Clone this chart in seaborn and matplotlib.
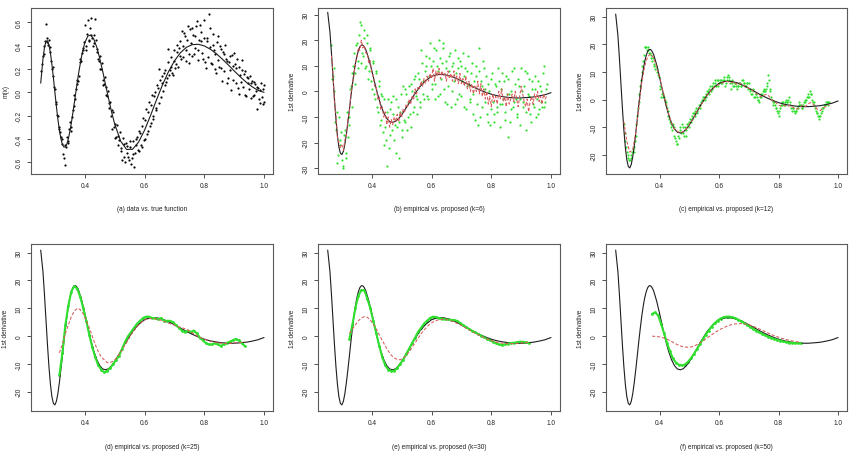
import matplotlib
matplotlib.use("Agg")
import matplotlib.pyplot as plt
import seaborn as sns

# ------------------------------------------------------------
# Doppler-type regression: data, true m(x), and first-derivative
# estimates (empirical vs. proposed) for several k
# ------------------------------------------------------------

# design points, first half of the grid
XS = [
    0.255, 0.26, 0.265, 0.27, 0.275, 0.28, 0.285, 0.29, 0.295, 0.30,
    0.305, 0.31, 0.315, 0.32, 0.325, 0.33, 0.335, 0.34, 0.345, 0.35,
    0.355, 0.36, 0.365, 0.37, 0.375, 0.38, 0.385, 0.39, 0.395, 0.40,
    0.405, 0.41, 0.415, 0.42, 0.425, 0.43, 0.435, 0.44, 0.445, 0.45,
    0.455, 0.46, 0.465, 0.47, 0.475, 0.48, 0.485, 0.49, 0.495, 0.50,
    0.505, 0.51, 0.515, 0.52, 0.525, 0.53, 0.535, 0.54, 0.545, 0.55,
    0.555, 0.56, 0.565, 0.57, 0.575, 0.58, 0.585, 0.59, 0.595, 0.60,
    0.605, 0.61, 0.615, 0.62, 0.625, 0.63, 0.635, 0.64, 0.645, 0.65,
    0.655, 0.66, 0.665, 0.67, 0.675, 0.68, 0.685, 0.69, 0.695, 0.70,
    0.705, 0.71, 0.715, 0.72, 0.725, 0.73, 0.735, 0.74, 0.745, 0.75,
    0.755, 0.76, 0.765, 0.77, 0.775, 0.78, 0.785, 0.79, 0.795, 0.80,
    0.805, 0.81, 0.815, 0.82, 0.825, 0.83, 0.835, 0.84, 0.845, 0.85,
    0.855, 0.86, 0.865, 0.87, 0.875, 0.88, 0.885, 0.89, 0.895, 0.90,
    0.905, 0.91, 0.915, 0.92, 0.925, 0.93, 0.935, 0.94, 0.945, 0.95,
    0.955, 0.96, 0.965, 0.97, 0.975, 0.98, 0.985, 0.99, 0.995, 1.00,
]
# design points, second half of the grid (in between)
XS2 = [
    0.2575, 0.2625, 0.2675, 0.2725, 0.2775, 0.2825, 0.2875, 0.2925, 0.2975, 0.3025,
    0.3075, 0.3125, 0.3175, 0.3225, 0.3275, 0.3325, 0.3375, 0.3425, 0.3475, 0.3525,
    0.3575, 0.3625, 0.3675, 0.3725, 0.3775, 0.3825, 0.3875, 0.3925, 0.3975, 0.4025,
    0.4075, 0.4125, 0.4175, 0.4225, 0.4275, 0.4325, 0.4375, 0.4425, 0.4475, 0.4525,
    0.4575, 0.4625, 0.4675, 0.4725, 0.4775, 0.4825, 0.4875, 0.4925, 0.4975, 0.5025,
    0.5075, 0.5125, 0.5175, 0.5225, 0.5275, 0.5325, 0.5375, 0.5425, 0.5475, 0.5525,
    0.5575, 0.5625, 0.5675, 0.5725, 0.5775, 0.5825, 0.5875, 0.5925, 0.5975, 0.6025,
    0.6075, 0.6125, 0.6175, 0.6225, 0.6275, 0.6325, 0.6375, 0.6425, 0.6475, 0.6525,
    0.6575, 0.6625, 0.6675, 0.6725, 0.6775, 0.6825, 0.6875, 0.6925, 0.6975, 0.7025,
    0.7075, 0.7125, 0.7175, 0.7225, 0.7275, 0.7325, 0.7375, 0.7425, 0.7475, 0.7525,
    0.7575, 0.7625, 0.7675, 0.7725, 0.7775, 0.7825, 0.7875, 0.7925, 0.7975, 0.8025,
    0.8075, 0.8125, 0.8175, 0.8225, 0.8275, 0.8325, 0.8375, 0.8425, 0.8475, 0.8525,
    0.8575, 0.8625, 0.8675, 0.8725, 0.8775, 0.8825, 0.8875, 0.8925, 0.8975, 0.9025,
    0.9075, 0.9125, 0.9175, 0.9225, 0.9275, 0.9325, 0.9375, 0.9425, 0.9475, 0.9525,
    0.9575, 0.9625, 0.9675, 0.9725, 0.9775, 0.9825, 0.9875, 0.9925, 0.9975, 0.9990,
]

# (a) observed data
A_Y = [
    0.18, 0.31, 0.40, 0.59, 0.43, 0.45, 0.35, 0.20, 0.14, 0.03,
    -0.10, -0.20, -0.31, -0.38, -0.40, -0.56, -0.62, -0.38, -0.42, -0.25,
    -0.30, -0.15, -0.02, 0.03, 0.11, 0.14, 0.29, 0.34, 0.38, 0.58,
    0.36, 0.62, 0.44, 0.64, 0.47, 0.42, 0.63, 0.37, 0.29, 0.31,
    0.20, 0.06, 0.07, 0.05, -0.03, -0.09, -0.08, -0.31, -0.17, -0.39,
    -0.38, -0.37, -0.41, -0.50, -0.58, -0.44, -0.60, -0.46, -0.55, -0.47,
    -0.61, -0.53, -0.64, -0.45, -0.38, -0.50, -0.35, -0.47, -0.22, -0.40,
    -0.14, -0.33, -0.08, -0.26, -0.02, -0.20, 0.00, -0.13, 0.04, 0.20,
    -0.04, 0.08, 0.17, 0.06, 0.12, 0.37, 0.19, 0.22, 0.15, 0.27,
    0.24, 0.41, 0.38, 0.31, 0.53, 0.30, 0.48, 0.36, 0.57, 0.25,
    0.42, 0.55, 0.33, 0.48, 0.61, 0.36, 0.58, 0.44, 0.29, 0.62,
    0.21, 0.47, 0.67, 0.39, 0.24, 0.50, 0.33, 0.17, 0.48, 0.22,
    0.37, 0.10, 0.33, 0.41, 0.27, 0.12, 0.31, 0.02, 0.23, 0.34,
    0.08, 0.29, -0.01, 0.15, 0.28, 0.05, 0.18, -0.03, 0.12, 0.03,
    -0.05, 0.10, -0.02, 0.07, -0.14, 0.04, -0.09, 0.08, -0.10, 0.06,
]
A_Y2 = [
    0.24, 0.33, 0.44, 0.47, 0.41, 0.39, 0.27, 0.22, 0.05, -0.08,
    -0.19, -0.30, -0.34, -0.44, -0.53, -0.45, -0.47, -0.43, -0.31, -0.33,
    -0.21, -0.12, -0.06, 0.07, 0.10, 0.26, 0.27, 0.36, 0.43, 0.40,
    0.50, 0.45, 0.55, 0.49, 0.40, 0.49, 0.45, 0.35, 0.27, 0.20,
    0.25, 0.11, 0.13, -0.02, 0.01, -0.13, -0.20, -0.15, -0.30, -0.27,
    -0.28, -0.45, -0.34, -0.48, -0.39, -0.55, -0.43, -0.52, -0.58, -0.42,
    -0.56, -0.42, -0.52, -0.40, -0.49, -0.33, -0.45, -0.29, -0.41, -0.24,
    -0.36, -0.17, -0.29, -0.11, -0.23, -0.03, -0.15, 0.06, -0.09, 0.11,
    0.14, 0.01, 0.19, 0.09, 0.26, 0.15, 0.30, 0.17, 0.36, 0.21,
    0.35, 0.22, 0.44, 0.29, 0.40, 0.51, 0.27, 0.45, 0.33, 0.54,
    0.31, 0.49, 0.38, 0.57, 0.28, 0.45, 0.52, 0.34, 0.47, 0.26,
    0.44, 0.30, 0.55, 0.25, 0.41, 0.36, 0.20, 0.43, 0.28, 0.40,
    0.21, 0.35, 0.18, 0.29, 0.08, 0.26, 0.19, 0.32, 0.11, 0.24,
    0.21, 0.04, 0.22, 0.09, 0.19, 0.16, -0.02, 0.13, 0.08, 0.14,
    0.08, -0.03, 0.09, 0.01, 0.05, -0.06, 0.02, -0.04, 0.03, -0.08,
]

# true function and its first derivative
X_TRUE = [
    0.2525, 0.26, 0.265, 0.27, 0.275, 0.28, 0.285, 0.29, 0.295, 0.30,
    0.305, 0.31, 0.315, 0.32, 0.325, 0.33, 0.335, 0.34, 0.345, 0.35,
    0.355, 0.36, 0.365, 0.37, 0.375, 0.38, 0.39, 0.40, 0.41, 0.42,
    0.43, 0.44, 0.45, 0.46, 0.47, 0.48, 0.49, 0.50, 0.52, 0.54,
    0.56, 0.58, 0.60, 0.62, 0.64, 0.66, 0.68, 0.70, 0.72, 0.74,
    0.76, 0.78, 0.80, 0.82, 0.84, 0.86, 0.88, 0.90, 0.92, 0.94,
    0.96, 0.98, 1.00,
]
M_TRUE = [
    0.079, 0.286, 0.382, 0.436, 0.443, 0.408, 0.337, 0.239, 0.123, 0.000,
    -0.121, -0.231, -0.325, -0.397, -0.446, -0.469, -0.467, -0.443, -0.399, -0.337,
    -0.263, -0.179, -0.091, 0.000, 0.089, 0.173, 0.320, 0.424, 0.482, 0.491,
    0.457, 0.388, 0.292, 0.180, 0.060, -0.059, -0.171, -0.270, -0.418, -0.490,
    -0.488, -0.427, -0.325, -0.199, -0.065, 0.063, 0.176, 0.269, 0.339, 0.386,
    0.409, 0.412, 0.398, 0.370, 0.332, 0.286, 0.236, 0.184, 0.134, 0.088,
    0.048, 0.017, 0.000,
]
D_TRUE = [
    30.9, 23.2, 15.1, 6.1, -2.9, -10.9, -17.3, -21.8, -24.2, -24.7,
    -23.4, -20.6, -16.7, -12.1, -7.2, -2.1, 2.6, 7.0, 10.7, 13.7,
    15.9, 17.4, 18.1, 18.1, 17.4, 16.3, 12.7, 8.2, 3.3, -1.3,
    -5.3, -8.4, -10.6, -11.8, -12.1, -11.7, -10.6, -9.2, -5.5, -1.7,
    1.7, 4.2, 5.9, 6.6, 6.6, 6.1, 5.2, 4.1, 2.9, 1.7,
    0.65, -0.3, -1.1, -1.7, -2.1, -2.4, -2.55, -2.55, -2.4, -2.2,
    -1.8, -1.3, -0.5,
]

# (b) k=6: green on XS[2:147] and XS2[2:146], red on XS[2:147]
B_GREEN = [
    18, 6, 0, -15, -28, -10, -21, -27,
    -30, -15, -24, -18, -10, 2, 7, 15, 7, 19,
    12, 27, 26, 14, 21, 10, 22, 8, 16, 1,
    11, -3, 7, -8, 2, -11, -2, -21, -14, -29,
    -3, -17, -4, -9, -19, -3, -14, -26, -8, -15,
    2, -12, -1, -10, 2, -14, 0, -6, 6, -3,
    7, -4, 16, 4, -3, 10, -2, 13, 19, 3,
    12, -3, 16, 8, 20, -1, 11, 17, -4, 9,
    2, 14, -6, 10, 4, 16, -3, 9, 12, -2,
    15, 6, -7, 8, 3, -4, 11, -1, -11, 6,
    -13, 17, 4, -6, 9, 1, -9, 3, -13, 5,
    -4, -12, 2, -8, 4, -5, 7, -3, -11, 6,
    -18, -1, -7, 8, -4, 3, -10, 5, -3, 9,
    -6, 2, -15, 7, -2, -9, 4, -5, 1, -10,
    4, -7, 0, -6, 10, -4, 3,
]
B_GREEN2 = [
    5, 9, -12, -8, -25, -19, -16, -29,
    -17, -26, -8, -13, 1, -6, 10, 3, 18, 9,
    22, 11, 15, 24, 9, 19, 5, 17, 4, 12,
    -1, 8, -6, 4, -13, -1, -16, -3, -19, -8,
    -22, -7, -15, -2, -13, -24, -6, -12, -1, -18,
    -11, 1, -15, -4, -9, 3, -8, 5, -2, -9,
    5, -6, 11, -1, 8, 14, -3, 6, 10, 1,
    17, 3, 10, -2, 13, 5, 19, 1, 12, -5,
    8, 15, 0, 11, -5, 7, 13, -1, 10, 4,
    -6, 9, 2, 14, -3, 7, -9, 4, 10, -5,
    8, -10, 2, 12, -4, 6, -12, 0, -7, 7,
    -9, 3, -6, 9, -14, 1, -5, 4, -8, -1,
    5, -12, 0, -6, 9, -3, -9, 2, -13, 0,
    -4, 8, -8, -1, 5, -12, 1, -6, 6, -3,
    -9, 2, -4, 7, -6, 1,
]
B_RED = [
    14, 7, -4, -9, -18, -20, -22, -21,
    -23, -19, -17, -11, -8, -1, 3, 6, 11, 13,
    17, 16, 20, 17, 18, 15, 15, 11, 12, 7,
    6, 2, 2, -3, -2, -7, -6, -10, -8, -13,
    -10, -14, -11, -13, -10, -12, -9, -12, -8, -10,
    -7, -8, -5, -6, -3, -5, -2, -3, 1, -1,
    2, 1, 4, 2, 5, 3, 6, 4, 7, 5,
    9, 4, 8, 6, 9, 5, 8, 6, 7, 4,
    8, 5, 7, 4, 8, 4, 6, 3, 7, 3,
    5, 2, 6, 1, 4, 0, 3, -1, 2, 0,
    4, -1, 3, -2, 1, -3, 0, -5, -2, -6,
    -1, -4, -2, -5, 0, -3, 1, -4, -2, -6,
    -1, -5, -3, -1, -4, 0, -3, -6, -2, 2,
    -1, -4, -6, -3, -8, -4, -2, -5, -1, -3,
    0, -4, -2, -5, -1, -3, -2,
]

# (c) k=12: green on XS[5:144] and XS2[5:143], red on XS[5:144:2]
C_GREEN = [
    -9, -15, -19, -21, -22,
    -20, -18, -19, -13, -6, -1, 5, 10, 14, 19,
    19, 18, 17, 15, 14, 12, 11, 11, 9, 5,
    1, 2, 1, -2, -3, -6, -8, -10, -9, -13,
    -15, -16, -14, -10, -9, -12, -10, -13, -9, -8,
    -8, -6, -5, -4, -5, -3, -3, -1, 0, 1,
    2, 3, 2, 5, 4, 6, 7, 5, 7, 6,
    7, 6, 7, 5, 8, 9, 7, 4, 6, 5,
    6, 4, 5, 6, 5, 7, 6, 5, 6, 6,
    3, 2, 4, 1, 2, 0, -1, 1, 2, 4,
    3, 5, 9, 4, 1, -2, -1, -3, -4, -6,
    -3, -2, -1, -2, 0, -1, 1, -2, -4, -3,
    -5, -4, -3, -1, -2, -3, -1, 0, 1, 2,
    3, 2, -1, -2, -4, -5, -7, -6, -4, -3,
    -2, -1, -2, -1,
]
C_GREEN2 = [
    -12, -17, -20, -22, -21,
    -19, -17, -15, -9, -3, 2, 7, 12, 16, 19,
    18, 19, 17, 16, 15, 13, 12, 10, 8, 4,
    2, 1, 0, -1, -4, -7, -9, -11, -10, -14,
    -16, -13, -11, -12, -10, -13, -11, -9, -10, -7,
    -7, -5, -6, -3, -4, -2, -2, 0, 1, 0,
    1, 3, 4, 3, 5, 5, 6, 7, 5, 7,
    6, 7, 8, 6, 7, 8, 6, 7, 5, 6,
    5, 5, 6, 5, 7, 6, 5, 6, 4, 4,
    2, 3, 1, 2, 1, 0, 1, 2, 3, 3,
    4, 6, 7, 3, 0, -1, -2, -3, -5, -4,
    -2, -1, -2, -1, -1, 0, -1, -3, -3, -4,
    -4, -3, -2, -2, -3, -2, -1, 0, 1, 1,
    2, 0, -1, -3, -5, -6, -6, -5, -3, -2,
    -2, -1, -1,
]
C_RED = [
    -8, -15, -19, -18, -12, -3, 6, 12, 15.5, 16.5,
    15, 12, 8, 3.5, -1, -5, -8.5, -10.5, -11.5, -12,
    -11.5, -10.5, -9, -7.5, -5.5, -3.5, -2, 0, 1.5, 3,
    4, 5, 5.5, 6, 6.5, 6.5, 6, 6.5, 5.5, 6,
    5, 5, 4, 3.5, 2.5, 2, 1, 1.5, 2, 1,
    -0.5, -1, -2, -2.5, -2, -2.5, -2, -3, -3.5, -3,
    -2, -2.5, -1.5, -1, -2, -3.5, -4, -3, -2.5, -2,
]

# (d) k=25 on XS[12:137:2]
D_GREEN = [
    -14, -6, 4, 11, 16, 18, 17, 14, 10, 5.5,
    0.5, -4, -7.5, -10.5, -12, -13, -12.5, -11.5, -10, -8.5,
    -7, -4.5, -2, 0, 1.5, 3, 4.5, 5.5, 6.5, 7,
    7, 6.5, 6.5, 6, 6.5, 5.5, 5.5, 5.5, 5, 4,
    3, 2, 1.5, 2, 1.5, 2, 1, -0.5, -1.5, -2.5,
    -3, -3, -2.5, -3, -3.5, -3, -2.5, -2, -1.5, -1,
    -1.5, -2.5, -3.5,
]
D_RED = [
    -6, -3, 1, 4, 7, 9, 10, 9.5, 8, 5.5,
    3, 0, -3, -5.5, -7.5, -8.5, -9.5, -9.5, -9, -8,
    -6.5, -5, -3, -1.5, 0.5, 2, 3.5, 4.5, 5.5, 6,
    6.3, 6.3, 6.2, 6, 5.7, 5.3, 4.9, 4.5, 4.1, 3.7,
    3.3, 3, 2.7, 2.2, 1.5, 0.8, 0.2, -0.4, -0.9, -1.3,
    -1.7, -2, -2.2, -2.4, -2.5, -2.6, -2.6, -2.6, -2.5, -2.4,
    -2.3, -2.2, -2.1,
]

# (e) k=30 on XS[14:135:2]
E_GREEN = [
    -1, 4, 10, 14.5, 16.5, 16.5, 13.5, 10, 5.5, 1,
    -3.5, -7.5, -10.5, -12, -12.5, -12.5, -11.5, -10, -8.5, -6.5,
    -4.5, -2.5, -0.5, 1.5, 3, 4.5, 5.5, 6.5, 7, 6.8,
    6.5, 6.3, 6, 6, 5.8, 5.8, 5.5, 4.8, 4, 3.3,
    2.6, 2, 1.4, 0.8, 0.2, -0.4, -1, -1.5, -2, -2.5,
    -3, -3.2, -3, -2.7, -2.5, -2.4, -2.2, -2, -2, -2.2,
    -2.5,
]
E_RED = [
    1, 2.5, 4, 5.5, 6.5, 7, 6.8, 5.8, 4.3, 2.5,
    0.5, -1.5, -3.5, -5.3, -6.8, -7.8, -8.4, -8.5, -8, -7,
    -5.6, -4, -2.4, -0.8, 0.8, 2.2, 3.4, 4.4, 5.1, 5.6,
    5.9, 6, 6, 5.8, 5.5, 5.1, 4.6, 4.1, 3.5, 2.9,
    2.3, 1.7, 1.1, 0.5, 0, -0.5, -1, -1.4, -1.8, -2.1,
    -2.3, -2.5, -2.6, -2.7, -2.7, -2.7, -2.6, -2.5, -2.4, -2.3,
    -2.2,
]

# (f) k=50 on XS[24:125:2]
F_GREEN = [
    8, 8.5, 7.5, 4.5, 1, -2.5, -5.5, -8, -9.5, -10.3,
    -10.5, -10.2, -9.3, -8, -6.5, -4.8, -3, -1.2, 0.5, 2,
    3.4, 4.6, 5.6, 6.3, 6.8, 7, 7, 6.8, 6.4, 5.9,
    5.3, 4.7, 4, 3.3, 2.6, 2, 1.4, 0.8, 0.3, -0.2,
    -0.6, -1, -1.3, -1.6, -1.9, -2.1, -2.3, -2.4, -2.5, -2.5,
    -2.6,
]
F_RED = [
    0, -0.1, -0.2, -0.4, -0.7, -1.1, -1.6, -2.2, -2.8, -3.3,
    -3.7, -3.9, -4, -3.9, -3.6, -3.1, -2.5, -1.8, -1, -0.3,
    0.5, 1.2, 1.9, 2.5, 3, 3.5, 3.9, 4.2, 4.4, 4.5,
    4.5, 4.4, 4.2, 3.9, 3.5, 3.1, 2.6, 2.1, 1.6, 1.1,
    0.6, 0.2, -0.2, -0.6, -0.9, -1.2, -1.5, -1.7, -1.9, -2.1,
    -2.2,
]

CAPTIONS = [
    "(a) data vs. true function",
    "(b) empirical vs. proposed (k=6)",
    "(c) empirical vs. proposed (k=12)",
    "(d) empirical vs. proposed (k=25)",
    "(e) empirical vs. proposed (k=30)",
    "(f) empirical vs. proposed (k=50)",
]
X_TICKS = [0.4, 0.6, 0.8, 1.0]
A_TICKS = [-0.6, -0.4, -0.2, 0.0, 0.2, 0.4, 0.6]
B_TICKS = [-30, -20, -10, 0, 10, 20, 30]
D_TICKS = [-20, -10, 0, 10, 20, 30]

BLACK = "#1e1e1e"
GREEN = "#2fe02f"
RED = "#d65a5a"
FS = 4.7

sns.set_style("ticks")
plt.rcParams["font.family"] = ["Liberation Sans", "DejaVu Sans"]
plt.rcParams["axes.unicode_minus"] = False


def style(ax, ylim, yticks, ylabel, caption, fmt):
    ax.set_xlim(0.22, 1.03)
    ax.set_ylim(*ylim)
    ax.set_xticks(X_TICKS)
    ax.set_xticklabels([f"{v:.1f}" for v in X_TICKS])
    ax.set_yticks(yticks)
    ax.set_yticklabels([fmt(v) for v in yticks], rotation=90, va="center")
    ax.tick_params(length=2.9, width=0.6, color="#333333", labelsize=FS,
                   pad=3.2, labelcolor="#222222")
    for sp in ax.spines.values():
        sp.set_visible(True)
        sp.set_color("#5a5a5a")
        sp.set_linewidth(0.8)
    ax.set_xlabel("")
    ax.set_ylabel(ylabel, fontsize=FS, color="#222222")
    ax.yaxis.set_label_coords(-0.09, 0.5)
    ax.text(0.5, -0.21, caption, transform=ax.transAxes, ha="center",
            va="center", fontsize=FS, color="#222222")


def dots(ax, x, y, color, size=2.5):
    sns.scatterplot(x=x, y=y, ax=ax, color=color, s=size, linewidth=0)


def dashed(ax, x, y):
    sns.lineplot(x=x, y=y, ax=ax, color=RED, lw=0.75, errorbar=None,
                 linestyle=(0, (3, 1.8)))


def truth(ax, y):
    sns.lineplot(x=X_TRUE, y=y, ax=ax, color=BLACK, lw=0.8, errorbar=None)


fig = plt.figure(figsize=(8.56, 4.56), dpi=100)
W = 856.0
H = 456.0
lefts = [31, 318, 606]
widths = [242, 242, 241]
tops = [9, 245]
heights = [166, 167]

axes = []
for r in range(2):
    for c in range(3):
        ax = fig.add_axes([lefts[c] / W, 1 - (tops[r] + heights[r]) / H,
                           widths[c] / W, heights[r] / H])
        axes.append(ax)

ax_a, ax_b, ax_c, ax_d, ax_e, ax_f = axes
DYLIM = (-26.9, 33.1)

# (a) data vs true function
dots(ax_a, XS, A_Y, "black")
dots(ax_a, XS2, A_Y2, "black")
truth(ax_a, M_TRUE)
style(ax_a, (-0.70, 0.723), A_TICKS, "m(x)", CAPTIONS[0], lambda v: f"{v:.1f}")

# (b) k=6
dots(ax_b, XS[2:147], B_GREEN, GREEN)
dots(ax_b, XS2[2:146], B_GREEN2, GREEN)
truth(ax_b, D_TRUE)
dashed(ax_b, XS[2:147], B_RED)
style(ax_b, (-32.3, 32.6), B_TICKS, "1st derivative", CAPTIONS[1], lambda v: f"{v:d}")

# (c) k=12
dots(ax_c, XS[5:144], C_GREEN, GREEN)
dots(ax_c, XS2[5:143], C_GREEN2, GREEN)
truth(ax_c, D_TRUE)
dashed(ax_c, XS[5:144:2], C_RED)
style(ax_c, DYLIM, D_TICKS, "1st derivative", CAPTIONS[2], lambda v: f"{v:d}")

# (d)-(f): smoother estimates, green drawn as a dense band of points
for ax, sl, green, red, cap in [
    (ax_d, slice(12, 137, 2), D_GREEN, D_RED, CAPTIONS[3]),
    (ax_e, slice(14, 135, 2), E_GREEN, E_RED, CAPTIONS[4]),
    (ax_f, slice(24, 125, 2), F_GREEN, F_RED, CAPTIONS[5]),
]:
    truth(ax, D_TRUE)
    sns.lineplot(x=XS[sl], y=green, ax=ax, color=GREEN, lw=1.5, errorbar=None)
    dots(ax, XS[sl], green, GREEN, size=4)
    dashed(ax, XS[sl], red)
    style(ax, DYLIM, D_TICKS, "1st derivative", cap, lambda v: f"{v:d}")

fig.savefig("out.png", dpi=100, facecolor="white")
